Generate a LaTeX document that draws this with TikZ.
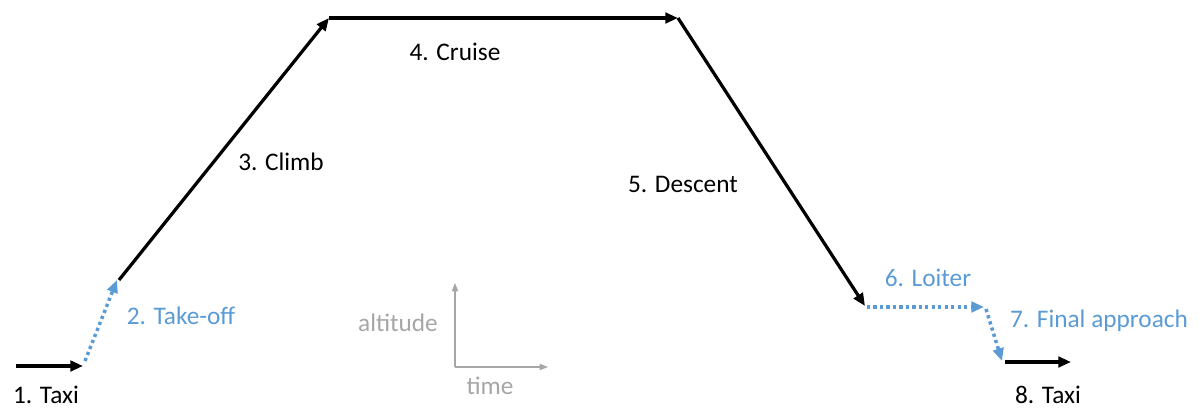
\documentclass[tikz,border=0pt]{standalone}
\usepackage{fontspec}
\setmainfont{Carlito}
\usetikzlibrary{arrows.meta,positioning,calc}
\definecolor{phaseblue}{RGB}{91,155,213}
\definecolor{axisgray}{RGB}{166,166,166}

\begin{document}
\begin{tikzpicture}[x=0.025cm,y=-0.025cm,
  seg/.style={line width=2.3pt,-{Triangle[length=9pt,width=7.5pt]}},
  dotseg/.style={phaseblue,line width=2.5pt,dash pattern=on 2.3pt off 2.3pt,-{Triangle[length=9pt,width=7.5pt]}},
  axis/.style={axisgray,line width=0.8pt,-{Triangle[length=6pt,width=4.5pt]}},
  lab/.style={font=\fontsize{18}{21}\selectfont,inner sep=0pt}]
  \useasboundingbox (0,0) rectangle (1204,408);
  % profile points
  \coordinate (taxiS) at (16,366);   \coordinate (taxiE) at (83,366);
  \coordinate (toS) at (85,361);     \coordinate (toE) at (117,280);
  \coordinate (climbS) at (119,280); \coordinate (top1) at (329,18);
  \coordinate (top2) at (678,18);    \coordinate (descE) at (865,306);
  \coordinate (loitS) at (867,307);  \coordinate (loitE) at (984,307);
  \coordinate (appS) at (986,309);   \coordinate (appE) at (1002,361);
  \coordinate (taxi2S) at (1005,362); \coordinate (taxi2E) at (1071,362);
  \draw[seg] (taxiS) -- (taxiE);
  \draw[dotseg] (toS) -- (toE);
  \draw[seg] (climbS) -- (top1);
  \draw[seg] (top1) -- (top2);
  \draw[seg] (top2) -- (descE);
  \draw[dotseg] (loitS) -- (loitE);
  \draw[dotseg] (appS) -- (appE);
  \draw[seg] (taxi2S) -- (taxi2E);
  % phase labels
  \node[lab] (taxiA) at (46,395) {1. Taxi};
  \node[lab,phaseblue] (takeoff) at (181,316) {2. Take-off};
  \node[lab] (climb) at (281,162) {3. Climb};
  \node[lab] (cruise) at (455,52) {4. Cruise};
  \node[lab] (descent) at (683,184) {5. Descent};
  \node[lab,phaseblue] (loiter) at (928,278) {6. Loiter};
  \node[lab,phaseblue] (final) at (1099,321) {7. Final approach};
  \node[lab] (taxiB) at (1048,395) {8. Taxi};
  % axes
  \coordinate (orig) at (455,367);
  \coordinate (altTop) at (455,283);
  \coordinate (timeEnd) at (548,367);
  \draw[axis] (orig) -- (altTop);
  \draw[axis] (orig) -- (timeEnd);
  \node[lab,axisgray] (altitude) at (398,323) {altitude};
  \node[lab,axisgray] (time) at (490,386) {time};
\end{tikzpicture}
\end{document}
